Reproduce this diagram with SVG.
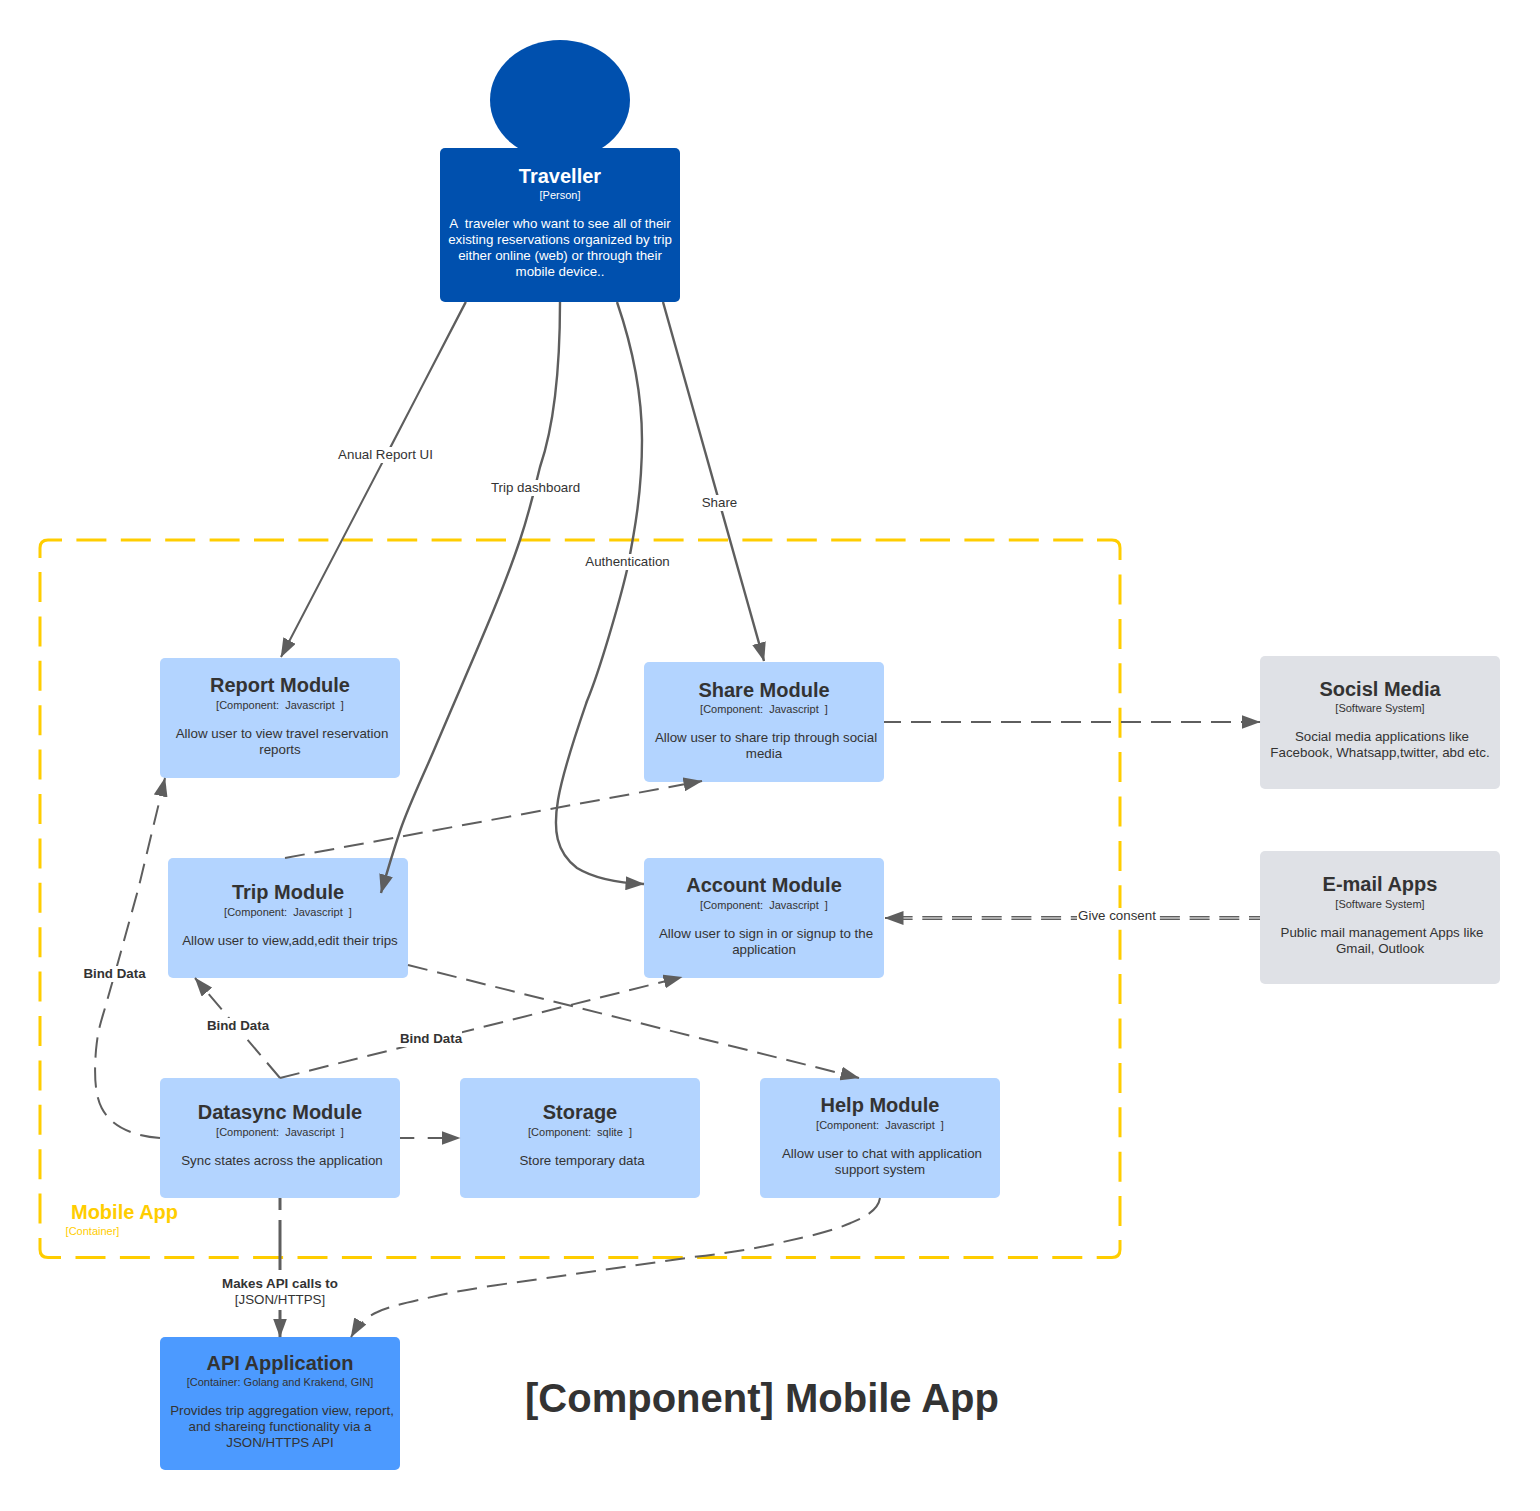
<svg xmlns="http://www.w3.org/2000/svg" width="1540" height="1511" viewBox="0 0 1540 1511">
<style>
text{font-family:"Liberation Sans",Arial,sans-serif;text-anchor:middle;fill:#333;white-space:pre}
.t{font-size:20px;font-weight:700}
.s{font-size:11px}
.d,.l{font-size:13.33px}
.b{font-size:13.33px;font-weight:700}
.w{fill:#fff}
.comp{fill:#b3d4ff}
.ext{fill:#dfe1e6}
.c{fill:none;stroke:#5e5e5e;stroke-width:2}
.h{stroke-width:2.4}
.dash{stroke-dasharray:20 10}
.lb{fill:#fff}
.box{fill:none;stroke:#ffcd00;stroke-width:3}
</style>
<defs>
<marker id="a" markerUnits="userSpaceOnUse" markerWidth="19" markerHeight="14" refX="18.500" refY="7" orient="auto"><path d="M0 0L19 7L0 14Z" fill="#5e5e5e"/></marker>
</defs>
<g id="container-mobile-app">
<path class="box" stroke-dasharray="30 14.400" d="M76.400 540H1097M1120 574.500V1240M75.500 1257.500H1097M40 572V1238"/>
<path class="box" d="M40 558V548Q40 540 48 540H62M1097 540H1112Q1120 540 1120 548V560M1120 1240V1249.500Q1120 1257.500 1112 1257.500H1097M61 1257.500H48Q40 1257.500 40 1249.500V1238"/>
<text x="124.500" y="1219" style="fill:#ffcd00;font-size:20px;font-weight:700">Mobile App</text>
<text x="92.500" y="1235" class="s" style="fill:#ffcd00">[Container]</text>
</g>
<g id="traveller">
<ellipse cx="560" cy="100" rx="70" ry="60" fill="#0050ae"/>
<rect x="440" y="148" width="240" height="154" rx="5" fill="#0050ae"/>
<text class="t w" x="560" y="183">Traveller</text>
<text class="s w" x="560" y="199">[Person]</text>
<text class="d w" x="560" y="228">A  traveler who want to see all of their</text>
<text class="d w" x="560" y="244">existing reservations organized by trip</text>
<text class="d w" x="560" y="260">either online (web) or through their</text>
<text class="d w" x="560" y="276">mobile device..</text>
</g>
<g id="report-module">
<rect class="comp" x="160" y="658" width="240" height="120" rx="5"/>
<text class="t" x="280" y="692">Report Module</text>
<text class="s" x="280" y="709">[Component:  Javascript  ]</text>
<text class="d" x="282" y="738">Allow user to view travel reservation</text>
<text class="d" x="280" y="754">reports</text>
</g>
<g id="share-module">
<rect class="comp" x="644" y="662" width="240" height="120" rx="5"/>
<text class="t" x="764" y="697">Share Module</text>
<text class="s" x="764" y="713">[Component:  Javascript  ]</text>
<text class="d" x="766" y="742">Allow user to share trip through social</text>
<text class="d" x="764" y="758">media</text>
</g>
<g id="social-media">
<rect class="ext" x="1260" y="656" width="240" height="133" rx="5"/>
<text class="t" x="1380" y="696">Socisl Media</text>
<text class="s" x="1380" y="712">[Software System]</text>
<text class="d" x="1382" y="741">Social media applications like</text>
<text class="d" x="1380" y="757">Facebook, Whatsapp,twitter, abd etc.</text>
</g>
<g id="trip-module">
<rect class="comp" x="168" y="858" width="240" height="120" rx="5"/>
<text class="t" x="288" y="899">Trip Module</text>
<text class="s" x="288" y="916">[Component:  Javascript  ]</text>
<text class="d" x="290" y="945">Allow user to view,add,edit their trips</text>
</g>
<g id="account-module">
<rect class="comp" x="644" y="858" width="240" height="120" rx="5"/>
<text class="t" x="764" y="892">Account Module</text>
<text class="s" x="764" y="909">[Component:  Javascript  ]</text>
<text class="d" x="766" y="938">Allow user to sign in or signup to the</text>
<text class="d" x="764" y="954">application</text>
</g>
<g id="email-apps">
<rect class="ext" x="1260" y="851" width="240" height="133" rx="5"/>
<text class="t" x="1380" y="891">E-mail Apps</text>
<text class="s" x="1380" y="908">[Software System]</text>
<text class="d" x="1382" y="937">Public mail management Apps like</text>
<text class="d" x="1380" y="953">Gmail, Outlook</text>
</g>
<g id="datasync-module">
<rect class="comp" x="160" y="1078" width="240" height="120" rx="5"/>
<text class="t" x="280" y="1119">Datasync Module</text>
<text class="s" x="280" y="1136">[Component:  Javascript  ]</text>
<text class="d" x="282" y="1165">Sync states across the application</text>
</g>
<g id="storage">
<rect class="comp" x="460" y="1078" width="240" height="120" rx="5"/>
<text class="t" x="580" y="1119">Storage</text>
<text class="s" x="580" y="1136">[Component:  sqlite  ]</text>
<text class="d" x="582" y="1165">Store temporary data</text>
</g>
<g id="help-module">
<rect class="comp" x="760" y="1078" width="240" height="120" rx="5"/>
<text class="t" x="880" y="1112">Help Module</text>
<text class="s" x="880" y="1129">[Component:  Javascript  ]</text>
<text class="d" x="882" y="1158">Allow user to chat with application</text>
<text class="d" x="880" y="1174">support system</text>
</g>
<g id="api-application">
<rect x="160" y="1337" width="240" height="133" rx="5" fill="#4c9aff"/>
<text class="t" x="280" y="1370">API Application</text>
<text class="s" x="280" y="1386">[Container: Golang and Krakend, GIN]</text>
<text class="d" x="282" y="1415">Provides trip aggregation view, report,</text>
<text class="d" x="280" y="1431">and shareing functionality via a</text>
<text class="d" x="280" y="1447">JSON/HTTPS API</text>
</g>
<g id="connectors">
<path class="c" marker-end="url(#a)" d="M465.300 302.500L385 458M466 302L281 657"/>
<path class="c h" marker-end="url(#a)" d="M560 302C560 360 556 420 540 467C533 495 530 510 520 540C500 600 470 665 437 743C425 772 410 802 400 831C393 852 387 872 381 893"/>
<path class="c h" marker-end="url(#a)" d="M617 302C630 340 642 390 642 440C642 490 635 530 627 570C620 600 600 670 587 701C577 730 563 770 558 800C553 830 556 852 577 868C595 879 620 883 644 884"/>
<path class="c h" marker-end="url(#a)" d="M663 302L764 661"/>
<path class="c dash" stroke-dashoffset="3" marker-end="url(#a)" d="M884 722H1260"/>
<path class="c" style="stroke-width:1.600;stroke-dasharray:20 9.700;stroke-dashoffset:9" d="M1260 916.800H890M1260 919.200H890"/>
<path class="c" marker-end="url(#a)" d="M895 918H885"/>
<path class="c dash" marker-end="url(#a)" d="M285 858L702 781"/>
<path class="c dash" marker-end="url(#a)" d="M408 965L859 1078"/>
<path class="c dash" marker-end="url(#a)" d="M280 1078L195 978"/>
<path class="c dash" marker-end="url(#a)" d="M280 1078L682 977"/>
<path class="c dash" marker-end="url(#a)" d="M160 1138C135 1136 112 1128 101.700 1108C95 1095 94 1075 96 1050C98 1030 100 1025 105 1008L116.700 967L138 890L165 778"/>
<path class="c" style="stroke-dasharray:14.300 13.400 30" marker-end="url(#a)" d="M400 1138H460"/>
<path class="c" style="stroke-width:3;stroke-dasharray:12 10 50 40 30" marker-end="url(#a)" d="M280 1198V1337"/>
<path class="c dash" marker-end="url(#a)" d="M880 1198C878 1212 860 1219 850.700 1223C830 1232 805 1237 783 1242C750 1250 720 1254 693.600 1257L554 1277C520 1282 470 1288 436 1296C410 1302 390 1306 377.500 1312C368 1316 358 1325 351 1337"/>
</g>
<g id="connector-labels">
<rect class="lb" x="337" y="447" width="97" height="16"/><text class="l" x="385.500" y="459">Anual Report UI</text>
<rect class="lb" x="490" y="480" width="91" height="16"/><text class="l" x="535.500" y="492">Trip dashboard</text>
<rect class="lb" x="584" y="554" width="87" height="16"/><text class="l" x="627.500" y="566">Authentication</text>
<rect class="lb" x="701" y="495" width="38" height="16"/><text class="l" x="719.500" y="507">Share</text>
<rect class="lb" x="1077" y="908" width="80" height="16"/><text class="l" x="1117" y="920">Give consent</text>
<rect class="lb" x="83" y="966" width="63" height="16"/><text class="b" x="114.500" y="978">Bind Data</text>
<rect class="lb" x="206" y="1018" width="63" height="16"/><text class="b" x="238" y="1030">Bind Data</text>
<rect class="lb" x="399" y="1031" width="63" height="16"/><text class="b" x="431" y="1043">Bind Data</text>
<rect class="lb" x="221" y="1271" width="118" height="39"/><text class="b" x="280" y="1288">Makes API calls to</text><text class="l" x="280" y="1304">[JSON/HTTPS]</text>
</g>
<text x="762" y="1412" style="font-size:40px;font-weight:700">[Component] Mobile App</text>
</svg>
